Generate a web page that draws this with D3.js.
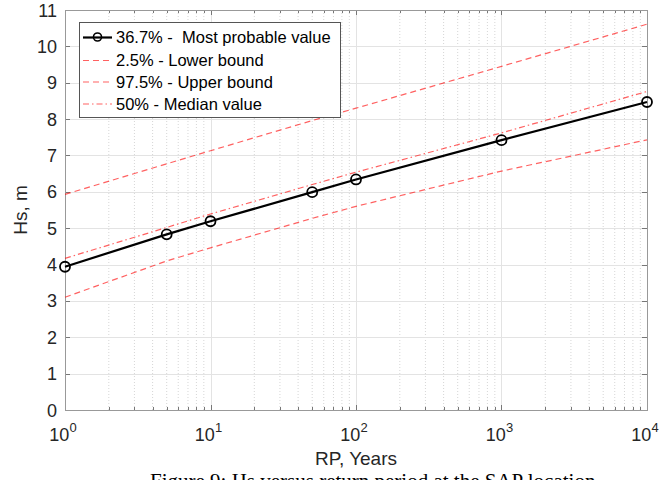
<!DOCTYPE html>
<html><head><meta charset="utf-8">
<script src="https://cdn.jsdelivr.net/npm/d3@7"></script>
<style>body{margin:0;background:#fff}svg{display:block}</style>
</head><body>
<svg id="c" width="662" height="480"></svg>
<script>
const rp = [1, 5, 10, 50, 100, 1000, 10000];
const mostProbable = [3.94, 4.83, 5.19, 5.99, 6.34, 7.42, 8.47];
const lowerBound = [3.10, 4.10, 4.46, 5.27, 5.60, 6.57, 7.43];
const upperBound = [5.93, 6.77, 7.13, 7.96, 8.30, 9.45, 10.61];
const medianVal = [4.17, 5.02, 5.39, 6.20, 6.54, 7.62, 8.76];
const yTicks = [0,1,2,3,4,5,6,7,8,9,10,11];
const xTickExp = [0,1,2,3,4];
const legendLabels = ["36.7% -  Most probable value","2.5% - Lower bound","97.5% - Upper bound","50% - Median value"];
const xLabel = "RP, Years", yLabel = "Hs, m";
const caption = "Figure 9: Hs versus return period at the SAP location";

const svg = d3.select("#c");
const L=65,R=647,T=10,B=410;
const x = d3.scaleLog().domain([1,1e4]).range([L,R]);
const y = d3.scaleLinear().domain([0,11]).range([B,T]);
const font = "'Liberation Sans', Arial, sans-serif";

// minor grid
const minor = [];
for (let e=0;e<4;e++) for (let k=2;k<=9;k++) minor.push(k*Math.pow(10,e));
svg.append("g").selectAll("line").data(minor).join("line")
  .attr("x1",d=>x(d)).attr("x2",d=>x(d)).attr("y1",T).attr("y2",B)
  .attr("stroke","#d6d6d6").attr("stroke-width",1).attr("stroke-dasharray","1,2");
// major grid
svg.append("g").selectAll("line").data(xTickExp.map(e=>Math.pow(10,e))).join("line")
  .attr("x1",d=>Math.round(x(d))+0.5).attr("x2",d=>Math.round(x(d))+0.5).attr("y1",T).attr("y2",B)
  .attr("stroke","#e3e3e3").attr("stroke-width",1);
svg.append("g").selectAll("line").data(yTicks).join("line")
  .attr("x1",L).attr("x2",R).attr("y1",d=>Math.round(y(d))+0.5).attr("y2",d=>Math.round(y(d))+0.5)
  .attr("stroke","#e3e3e3").attr("stroke-width",1);

// ticks (inside)
const tk = svg.append("g").attr("stroke","#777").attr("stroke-width",1);
yTicks.forEach(v=>{
  const yy=Math.round(y(v))+0.5;
  tk.append("line").attr("x1",L).attr("x2",L+5).attr("y1",yy).attr("y2",yy);
  tk.append("line").attr("x1",R-5).attr("x2",R).attr("y1",yy).attr("y2",yy);
});
xTickExp.forEach(e=>{
  const xx=Math.round(x(Math.pow(10,e)))+0.5;
  tk.append("line").attr("x1",xx).attr("x2",xx).attr("y1",B).attr("y2",B-5);
  tk.append("line").attr("x1",xx).attr("x2",xx).attr("y1",T).attr("y2",T+5);
});
minor.forEach(v=>{
  const xx=Math.round(x(v))+0.5;
  tk.append("line").attr("x1",xx).attr("x2",xx).attr("y1",B).attr("y2",B-3);
  tk.append("line").attr("x1",xx).attr("x2",xx).attr("y1",T).attr("y2",T+3);
});

// box
svg.append("rect").attr("x",L+0.5).attr("y",T+0.5).attr("width",R-L).attr("height",B-T)
  .attr("fill","none").attr("stroke","#999").attr("stroke-width",1);

// tick labels
svg.append("g").selectAll("text").data(yTicks).join("text")
  .attr("x",57).attr("y",d=>y(d)+6.5).attr("text-anchor","end")
  .attr("font-family",font).attr("font-size",18).attr("fill","#262626").text(d=>d);
const xl = svg.append("g").selectAll("text").data(xTickExp).join("text")
  .attr("x",d=>x(Math.pow(10,d))-2).attr("y",441).attr("text-anchor","middle")
  .attr("font-family",font).attr("font-size",18).attr("fill","#262626");
xl.append("tspan").text("10");
xl.append("tspan").attr("dy",-9).attr("font-size",13).text(d=>d);

// axis labels
svg.append("text").attr("x",(L+R)/2).attr("y",465).attr("text-anchor","middle")
  .attr("font-family",font).attr("font-size",19).attr("fill","#262626").text(xLabel);
svg.append("text").attr("transform",`translate(27,${(T+B)/2}) rotate(-90)`).attr("text-anchor","middle")
  .attr("font-family",font).attr("font-size",19).attr("fill","#262626").text(yLabel);

// caption (cut off at the bottom edge, as in the reference)
svg.append("text").attr("x",150).attr("y",488).attr("font-family","'Liberation Serif', 'Times New Roman', serif")
  .attr("font-size",21).attr("fill","#000").text(caption);

// series
const line = d3.line().x(d=>x(d[0])).y(d=>y(d[1]));
const red = "rgba(255,0,0,0.62)";
const series = [
  {v:upperBound, stroke:red, w:1.2, dash:"6,4"},
  {v:lowerBound, stroke:red, w:1.2, dash:"6,4"},
  {v:medianVal, stroke:red, w:1.2, dash:"6,3,1.5,3"},
  {v:mostProbable, stroke:"#000", w:2.2, dash:null}
];
series.forEach(s=>{
  svg.append("path").datum(rp.map((r,i)=>[r,s.v[i]])).attr("d",line)
    .attr("fill","none").attr("stroke",s.stroke).attr("stroke-width",s.w)
    .attr("stroke-dasharray",s.dash);
});
svg.append("g").selectAll("circle").data(rp.map((r,i)=>[r,mostProbable[i]])).join("circle")
  .attr("cx",d=>x(d[0])).attr("cy",d=>y(d[1])).attr("r",5)
  .attr("fill","none").attr("stroke","#000").attr("stroke-width",1.8);

// legend
const lg = svg.append("g");
lg.append("rect").attr("x",79.5).attr("y",22.5).attr("width",261).attr("height",95)
  .attr("fill","#fff").attr("stroke","#555").attr("stroke-width",1);
const lstyles = [
  {stroke:"#000", w:2.2, dash:null, marker:true},
  {stroke:red, w:1.2, dash:"6,4"},
  {stroke:red, w:1.2, dash:"6,4"},
  {stroke:red, w:1.2, dash:"6,3,1.5,3"}
];
const ly = [37, 60, 81.5, 103.5];
legendLabels.forEach((t,i)=>{
  const st=lstyles[i];
  lg.append("line").attr("x1",83).attr("x2",112).attr("y1",ly[i]+0.5).attr("y2",ly[i]+0.5)
    .attr("stroke",st.stroke).attr("stroke-width",st.w).attr("stroke-dasharray",st.dash);
  if (st.marker) lg.append("circle").attr("cx",97.5).attr("cy",ly[i]).attr("r",4)
    .attr("fill","none").attr("stroke","#000").attr("stroke-width",1.6);
  lg.append("text").attr("x",116).attr("y",ly[i]+6).attr("font-family",font).attr("font-size",16.5)
    .attr("fill","#000").attr("xml:space","preserve").style("white-space","pre").text(t);
});
</script>
</body></html>
